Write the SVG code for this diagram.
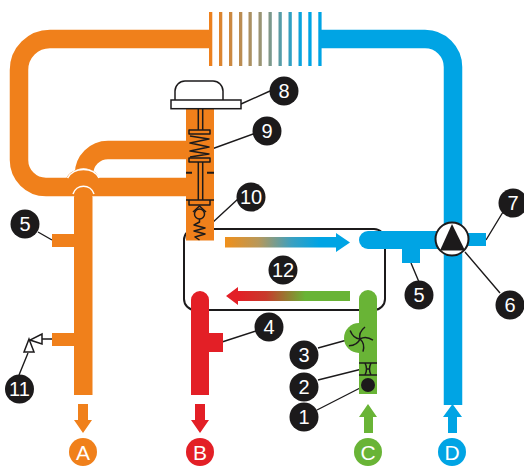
<svg xmlns="http://www.w3.org/2000/svg" width="524" height="467" viewBox="0 0 524 467">
<style>
.or{fill:none;stroke:#f0801b;stroke-width:18.5}
.orf{fill:#f0801b}
.blf{fill:#00a4e4}
.grf{fill:#69b436}
.ref{fill:#e31f26}
.ink{fill:none;stroke:#1c1a1b;stroke-width:1.5;stroke-linejoin:round}
.lead{fill:none;stroke:#1c1a1b;stroke-width:1.4}
.badge{fill:#1c1a1b}
.num{fill:#fff;font-family:"Liberation Sans",Arial,sans-serif;font-size:20px;text-anchor:middle}
.let{fill:#fff;font-family:"Liberation Sans",Arial,sans-serif;font-size:21px;text-anchor:middle}
.valve{fill:#fff;stroke:#1c1a1b;stroke-width:1.5}
</style>
<defs>
<linearGradient id="finGrad" gradientUnits="userSpaceOnUse" x1="209" y1="0" x2="320" y2="0"><stop offset="0" stop-color="#f0801b"/><stop offset="0.5" stop-color="#93967b"/><stop offset="0.85" stop-color="#00a4e4"/><stop offset="1" stop-color="#00a4e4"/></linearGradient>
<linearGradient id="hotGrad" gradientUnits="userSpaceOnUse" x1="225" y1="0" x2="336" y2="0"><stop offset="0" stop-color="#f0901b"/><stop offset="0.3" stop-color="#b8985a"/><stop offset="0.6" stop-color="#3ba0c0"/><stop offset="0.85" stop-color="#00a4e4"/></linearGradient>
<linearGradient id="coldGrad" gradientUnits="userSpaceOnUse" x1="238" y1="0" x2="350" y2="0"><stop offset="0" stop-color="#e31f26"/><stop offset="0.25" stop-color="#c83a2c"/><stop offset="0.6" stop-color="#69b436"/><stop offset="1" stop-color="#69b436"/></linearGradient>
<path id="blade" d="M0 0C-1-4 0-8 5-12" fill="none" stroke="#1c1a1b" stroke-width="1.5"/>
</defs>

<g id="box12"><rect x="184" y="229" width="201" height="81" rx="11" fill="none" stroke="#1c1a1b" stroke-width="2"/></g>

<g id="exchanger">
<path d="M209 12h3.3v54H209zM219 12h3.3v54H219zM229 12h3.3v54H229zM239 12h3.3v54H239zM248.500 12h3.300v54h-3.300zM258.500 12h3.300v54h-3.300zM268.500 12h3.300v54h-3.300zM278.500 12h3.300v54h-3.300zM288.500 12h3.300v54h-3.300zM298.500 12h3.300v54h-3.300zM308.300 12h3.300v54h-3.300zM318.300 12h3.300v54h-3.300z" fill="url(#finGrad)"/>
</g>

<g id="connectors">
<path class="lead" d="M241 104L270 91M209 150L256 133M205.500 229L238 199M38 232L52 240M411 263L419 282M486 240L503 212M465 252L500 293M222 342L256 331M318 348L347 340M318 380L362 369M317 410L362 387M19 375L28 353M42 339H52"/>
</g>

<g id="pipe-orange">
<path class="or" d="M209 39H50a31 31 0 0 0-31 31V160a27 27 0 0 0 27 27H186"/>
<path class="or" d="M186 150H108a24 24 0 0 0-24 24"/>
<path d="M73 173a16 16 0 0 1 21 0" fill="none" stroke="#fff" stroke-width="1.500"/>
<path class="orf" d="M66 179C69 172 75 169 83.500 169S98 172 99 179L102 187H66Z"/>
<path class="orf" d="M70 178h30v10H70z"/>
<path d="M67.500 178C71 172 76 169.500 83.500 169.500S96 172 99 178" fill="none" stroke="#fff" stroke-width="1.500"/>
<rect class="orf" x="186" y="108" width="28" height="132.500"/>
<path class="orf" d="M74 197a9.500 9.500 0 0 1 18.500 0V395H74Z"/>
<path d="M73 194a11 11 0 0 1 21 0" fill="none" stroke="#fff" stroke-width="1.500"/>
<rect class="orf" x="52" y="234" width="23" height="13"/>
<rect class="orf" x="52" y="333" width="23" height="13"/>
</g>

<g id="pipe-blue">
<path d="M321 39H425a28 28 0 0 1 28 28V405" fill="none" stroke="#00a4e4" stroke-width="18.500"/>
<path class="blf" d="M368 231H440V249H368a9 9 0 0 1 0-18Z"/>
<rect class="blf" x="402" y="248" width="18" height="15"/>
<rect class="blf" x="462" y="233" width="24" height="13"/>
</g>

<g id="pipe-green">
<path class="grf" d="M359 299a9 9 0 0 1 18 0V394H359Z"/>
<circle class="grf" cx="359" cy="338" r="15"/>
</g>

<g id="pipe-red">
<path class="ref" d="M191 300a9 9 0 0 1 18 0V333H223V352H209V395H191Z"/>
</g>

<g id="node-8"><path d="M175 100V91a10 10 0 0 1 10-10h28a10 10 0 0 1 10 10v9" fill="#fff" stroke="#1c1a1b" stroke-width="1.500"/><rect x="171" y="100" width="70" height="8.700" fill="#fff" stroke="#1c1a1b" stroke-width="1.500"/><circle class="badge" cx="284" cy="91" r="14.500"/><text class="num" x="284" y="98">8</text></g>

<g id="node-9"><path class="ink" d="M198.300 109V130M202.700 109V130M198.300 162V200M202.700 162V200"/><rect class="ink" x="189" y="130" width="21" height="4"/><rect class="ink" x="189" y="158" width="21" height="4"/><path class="ink" d="M190 136L209 139L190 143L209 147L190 151L209 154L190 157"/><circle class="badge" cx="267" cy="131" r="14.500"/><text class="num" x="267" y="138">9</text></g>

<g id="node-10"><path d="M186 172.700H192M207 172.700H214" fill="none" stroke="#1c1a1b" stroke-width="2"/><path class="ink" d="M186 200H214M189 200V205H210V200"/><path class="ink" d="M193 212L199.500 206L206 212"/><circle class="ink" cx="199.500" cy="214" r="5"/><path class="ink" d="M199.500 219V222L194 225L205 228L194 231L205 234L195 237L199.500 240"/><circle class="badge" cx="251" cy="197" r="14.500"/><text class="num" x="251" y="204">10</text></g>

<g id="node-5a"><circle class="badge" cx="25" cy="224" r="14.500"/><text class="num" x="25" y="231">5</text></g>
<g id="node-5b"><circle class="badge" cx="419" cy="295" r="14.500"/><text class="num" x="419" y="302">5</text></g>

<g id="node-6"><circle cx="452" cy="239" r="16.500" fill="#fff" stroke="#1c1a1b" stroke-width="2"/><path fill="#1c1a1b" d="M452 224L465 250.500H440Z"/><circle class="badge" cx="510" cy="305" r="14.500"/><text class="num" x="510" y="312">6</text></g>
<g id="node-7"><circle class="badge" cx="513" cy="203" r="14.500"/><text class="num" x="513" y="210">7</text></g>

<g id="node-11"><path class="valve" d="M42 334V344L30 340Z"/><path class="valve" d="M29 339L24 352H34Z"/><circle class="badge" cx="19.500" cy="389" r="14.500"/><text class="num" x="19.500" y="396">11</text></g>

<g id="node-12"><circle class="badge" cx="283" cy="270" r="14.500"/><text class="num" x="283" y="277">12</text></g>
<g id="node-4"><circle class="badge" cx="269" cy="327" r="14.500"/><text class="num" x="269" y="334">4</text></g>

<g id="node-3"><g transform="translate(360 339)"><use href="#blade"/><use href="#blade" transform="rotate(72)"/><use href="#blade" transform="rotate(144)"/><use href="#blade" transform="rotate(216)"/><use href="#blade" transform="rotate(288)"/></g><circle class="badge" cx="304" cy="355" r="14.500"/><text class="num" x="304" y="362">3</text></g>
<g id="node-2"><path class="ink" d="M359 363H377M359 375H377M365 363Q368 369 365 375M371 363Q368 369 371 375M366 369H370"/><circle class="badge" cx="304" cy="387" r="14.500"/><text class="num" x="304" y="394">2</text></g>
<g id="node-1"><circle class="badge" cx="368" cy="385" r="7"/><circle class="badge" cx="304" cy="417" r="14.500"/><text class="num" x="304" y="424">1</text></g>

<g id="flow-hot"><path fill="url(#hotGrad)" d="M225 237H336V233L350 242.500L336 252V247.500H225Z"/></g>
<g id="flow-cold"><path fill="url(#coldGrad)" d="M350 291V301H238V305L226 296L238 287V291Z"/></g>

<g id="port-A"><path class="orf" d="M78 404H88V420H92L83 433L74 420H78Z"/><circle class="orf" cx="83" cy="452" r="14"/><text class="let" x="83" y="459.500">A</text></g>
<g id="port-B"><path class="ref" d="M195 404H205V420H209L200 433L191 420H195Z"/><circle class="ref" cx="200" cy="452" r="14"/><text class="let" x="200" y="459.500">B</text></g>
<g id="port-C"><path class="grf" d="M364 433V417H359L368 404L377 417H373V433Z"/><circle class="grf" cx="368" cy="452" r="14"/><text class="let" x="368" y="459.500">C</text></g>
<g id="port-D"><path class="blf" d="M448 433V417H443L452.500 404L462 417H457V433Z"/><circle class="blf" cx="452" cy="452" r="14"/><text class="let" x="452" y="459.500">D</text></g>
</svg>
